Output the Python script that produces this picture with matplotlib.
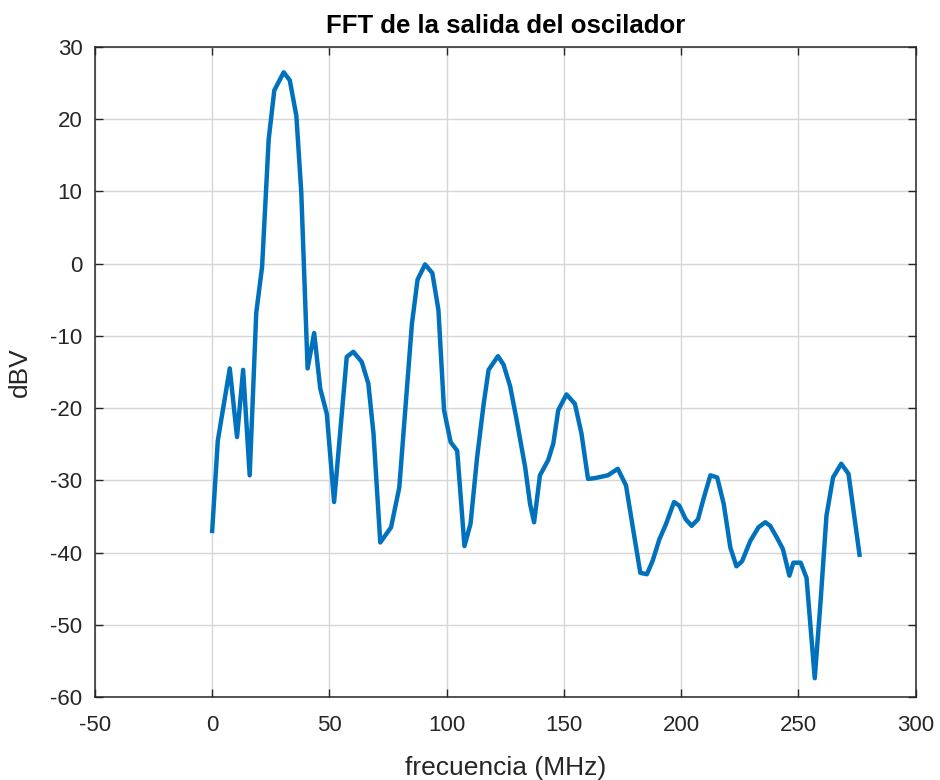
import matplotlib
matplotlib.use('Agg')
import matplotlib.pyplot as plt
import numpy as np

frec = [0, 2.4, 7.5, 10.6, 13.2, 16.0, 18.8, 21.3, 24.1, 26.5, 30.5, 33.1, 35.9,
        38.0, 40.7, 43.5, 46.1, 48.9, 52.0, 57.4, 60.2, 63.8, 66.6, 68.8, 71.7,
        76.3, 79.8, 85.2, 87.6, 90.8, 93.9, 96.5, 98.9, 101.7, 104.5, 107.6,
        110.2, 113.0, 115.8, 117.9, 121.9, 124.3, 127.1, 129.9, 133.5, 135.6,
        137.3, 139.8, 143.3, 145.5, 147.6, 151.1, 154.7, 157.5, 160.3, 163.1,
        168.8, 173.0, 176.5, 179.4, 182.6, 185.4, 187.8, 190.7, 193.5, 197.0,
        199.2, 202.0, 204.5, 207.2, 209.7, 212.5, 215.4, 218.2, 221.0, 223.6,
        226.0, 229.5, 233.0, 235.9, 238.0, 240.8, 243.4, 246.2, 247.9, 251.0,
        253.5, 257.0, 259.5, 262.0, 264.8, 268.3, 271.4, 276.1]
dbv = [-37.0, -24.5, -14.5, -24.0, -14.7, -29.3, -6.8, -0.4, 17.2, 24.0, 26.5,
       25.4, 20.5, 9.9, -14.5, -9.6, -17.3, -20.8, -33.0, -12.9, -12.2, -13.6,
       -16.6, -23.5, -38.6, -36.5, -31.0, -8.3, -2.2, -0.1, -1.3, -6.4, -20.3,
       -24.7, -25.9, -39.1, -36.0, -26.8, -19.4, -14.7, -12.8, -14.0, -17.0,
       -21.7, -28.2, -33.3, -35.8, -29.3, -27.2, -24.9, -20.3, -18.1, -19.4,
       -23.5, -29.8, -29.7, -29.3, -28.4, -30.7, -36.5, -42.8, -43.0, -41.2,
       -38.2, -36.1, -33.0, -33.5, -35.4, -36.3, -35.4, -32.4, -29.3, -29.6,
       -33.3, -39.3, -41.9, -41.2, -38.4, -36.5, -35.8, -36.3, -37.9, -39.5,
       -43.2, -41.4, -41.4, -43.5, -57.4, -46.7, -34.9, -29.6, -27.7, -29.1,
       -40.3]

plt.rcParams['font.family'] = ['Liberation Sans', 'DejaVu Sans']
plt.rcParams['axes.unicode_minus'] = False

fig = plt.figure(figsize=(9.4, 7.8), dpi=100)
ax = fig.add_axes([0.101, 0.1064, 0.873, 0.8333])

ax.plot(frec, dbv, color='#0072BD', linewidth=3.2)

ax.set_xlim(-50, 300)
ax.set_ylim(-60, 30)
ax.set_xticks(np.arange(-50, 301, 50))
ax.set_yticks(np.arange(-60, 31, 10))
ax.grid(True, color='#d6d6d6', linewidth=1.0)
ax.set_axisbelow(True)
ax.tick_params(direction='in', top=True, right=True, labelsize=16,
               colors='#262626', length=6, width=1.0)
ax.tick_params(axis='x', pad=13)
ax.tick_params(axis='y', pad=9)
for s in ax.spines.values():
    s.set_color('#262626')
    s.set_linewidth(1.1)

ax.set_title('FFT de la salida del oscilador', fontsize=18.5, fontweight='bold', pad=10)
ax.set_xlabel('frecuencia (MHz)', fontsize=19, color='#262626', labelpad=14)
ax.set_ylabel('dBV', fontsize=19, color='#262626', labelpad=13)

fig.savefig('out.png', dpi=100)
